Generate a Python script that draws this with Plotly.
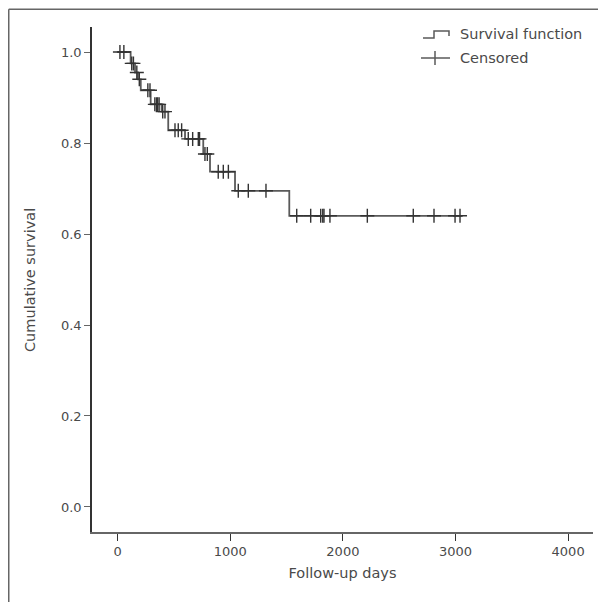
import numpy as np
import plotly.graph_objects as go

# ---- data ----
step_days = [0, 115, 154, 180, 205, 293, 390, 449, 598, 760, 820, 1042, 1524]
step_surv = [1.0, 0.975, 0.955, 0.94, 0.916, 0.885, 0.869, 0.828, 0.809, 0.776, 0.737, 0.695, 0.640]
end_day = 3065
censor_days = [20, 55, 125, 140, 170, 192, 268, 287, 330, 345, 355, 368, 400, 420,
               509, 538, 568, 627, 666, 716, 727, 775, 796, 893, 938, 983,
               1071, 1160, 1317, 1590, 1714, 1803, 1821, 1832, 1885, 2217,
               2625, 2809, 2996, 3040]
x_ticks = [0, 1000, 2000, 3000, 4000]
y_ticks = [0.0, 0.2, 0.4, 0.6, 0.8, 1.0]
y_ticklabels = ["0.0", "0.2", "0.4", "0.6", "0.8", "1.0"]

# censored survival values from the step function
idx = np.searchsorted(step_days, censor_days, side="right") - 1
censor_surv = [step_surv[i] for i in idx]

FONT = "DejaVu Sans"
TXT = "#4a4a4a"
LINE = "#5a5a5a"

fig = go.Figure()
fig.add_trace(go.Scatter(
    x=step_days + [end_day], y=step_surv + [step_surv[-1]],
    mode="lines", line=dict(shape="hv", color=LINE, width=1.8),
    showlegend=False, hoverinfo="skip"))
fig.add_trace(go.Scatter(
    x=censor_days, y=censor_surv, mode="markers",
    marker=dict(symbol="cross-thin", size=10, line=dict(color="#333333", width=1.4)),
    showlegend=False))

# page has an 8px body margin, so the figure is 598x594 and reference coords are shifted by 8
OFF = 8
W, H = 598, 594
L, R, T, B = 84, 13, 19, 70
pw, ph = W - L - R, H - T - B

def px(x):
    return (x - OFF - L) / pw

def py(y):
    return (H - B - (y - OFF)) / ph

shapes = [
    # outer frame (top and left only)
    dict(type="line", xref="paper", yref="paper", x0=px(8.75), x1=px(620), y0=py(9.2), y1=py(9.2),
         line=dict(color="#666666", width=1.5)),
    dict(type="line", xref="paper", yref="paper", x0=px(8.75), x1=px(8.75), y0=py(9.2), y1=py(620),
         line=dict(color="#666666", width=1.5)),
    # legend symbols
    dict(type="path", xref="paper", yref="paper",
         path=f"M {px(423)},{py(38)} L {px(434)},{py(38)} L {px(434)},{py(31)} L {px(449)},{py(31)} L {px(449)},{py(36)}",
         line=dict(color=LINE, width=1.5)),
    dict(type="line", xref="paper", yref="paper", x0=px(421), x1=px(450), y0=py(58), y1=py(58),
         line=dict(color=LINE, width=1.5)),
    dict(type="line", xref="paper", yref="paper", x0=px(435), x1=px(435), y0=py(51), y1=py(65),
         line=dict(color=LINE, width=1.5)),
]

annotations = [
    dict(xref="paper", yref="paper", x=px(458), y=py(34), text="Survival function",
         showarrow=False, xanchor="left", yanchor="middle", font=dict(family=FONT, size=14.5, color=TXT)),
    dict(xref="paper", yref="paper", x=px(458), y=py(58), text="Censored",
         showarrow=False, xanchor="left", yanchor="middle", font=dict(family=FONT, size=14.5, color=TXT)),
    dict(xref="paper", yref="paper", x=px(30), y=py(280), text="Cumulative survival", textangle=-90,
         showarrow=False, xanchor="center", yanchor="middle", font=dict(family=FONT, size=14.5, color=TXT)),
]

fig.update_layout(
    width=W, height=H,
    margin=dict(l=L, r=R, t=T, b=B, pad=0),
    paper_bgcolor="white", plot_bgcolor="white",
    font=dict(family=FONT, size=13, color=TXT),
    shapes=shapes, annotations=annotations,
    xaxis=dict(range=[-228, 4221], tickvals=x_ticks, ticks="outside", ticklen=7,
               tickcolor="#333333", tickwidth=1, showline=True, linecolor="#666666", linewidth=1.5,
               showgrid=False, zeroline=False,
               title=dict(text="Follow-up days", standoff=10, font=dict(size=14.5, color=TXT))),
    yaxis=dict(range=[-0.055, 1.055], tickvals=y_ticks, ticktext=y_ticklabels, ticks="outside",
               ticklen=6, tickcolor="#666666", tickwidth=1, showline=True, linecolor="#333333",
               linewidth=1.5, showgrid=False, zeroline=False),
)

fig.write_html("out.html")
